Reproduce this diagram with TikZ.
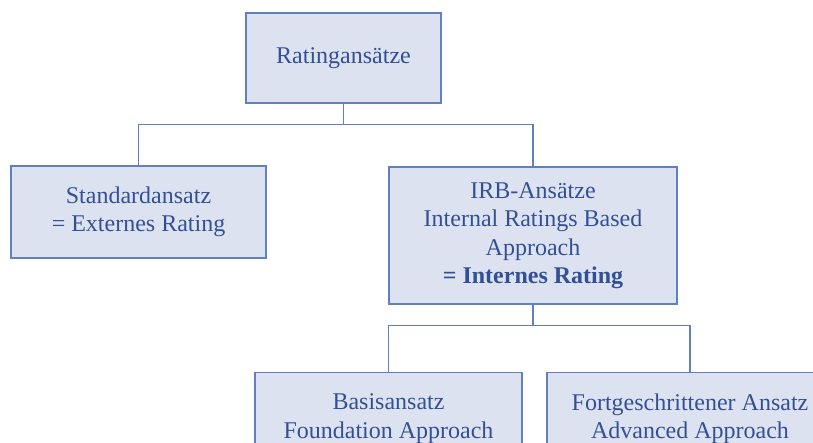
\documentclass[tikz,border=0pt]{standalone}
\usepackage{fontspec}
\setmainfont{Liberation Serif}
\definecolor{boxfill}{RGB}{220,226,240}
\definecolor{boxline}{RGB}{98,128,192}
\definecolor{boxtext}{RGB}{52,80,148}
\tikzset{
  ratingbox/.style={draw=boxline, fill=boxfill, line width=1.4pt, text=boxtext,
    align=center, inner sep=0pt, font=\fontsize{24}{28.5}\selectfont},
  link/.style={draw=boxline, line width=1.4pt}
}
\begin{document}
\begin{tikzpicture}[x=1pt,y=1pt]

  \useasboundingbox (0,0) rectangle (813,443);

  % top level
  \node[ratingbox, minimum width=195, minimum height=90] (rating) at (343.5,385) {Ratingans\"atze};

  % second level
  \node[ratingbox, minimum width=255, minimum height=92] (standard) at (138.5,231) {Standardansatz\\= Externes Rating};
  \node[ratingbox, minimum width=288, minimum height=137] (irb) at (533,207.5)
    {IRB-Ans\"atze\\Internal Ratings Based\\Approach\\\textbf{= Internes Rating}};

  % third level
  \node[ratingbox, minimum width=267, minimum height=92, anchor=north] (basis) at (388.5,71) {Basisansatz\\Foundation Approach};
  \node[ratingbox, minimum width=286, minimum height=92, anchor=north] (advanced) at (690,71) {Fortgeschrittener Ansatz\\Advanced Approach};

  % connectors
  \draw[link] (rating.south) -- ++(0,-21) coordinate (bus1);
  \draw[link] (bus1) -| (standard.north);
  \draw[link] (bus1) -| (irb.north);

  \draw[link] (irb.south) -- ++(0,-21) coordinate (bus2);
  \draw[link] (bus2) -| (basis.north);
  \draw[link] (bus2) -| (advanced.north);

\end{tikzpicture}
\end{document}
